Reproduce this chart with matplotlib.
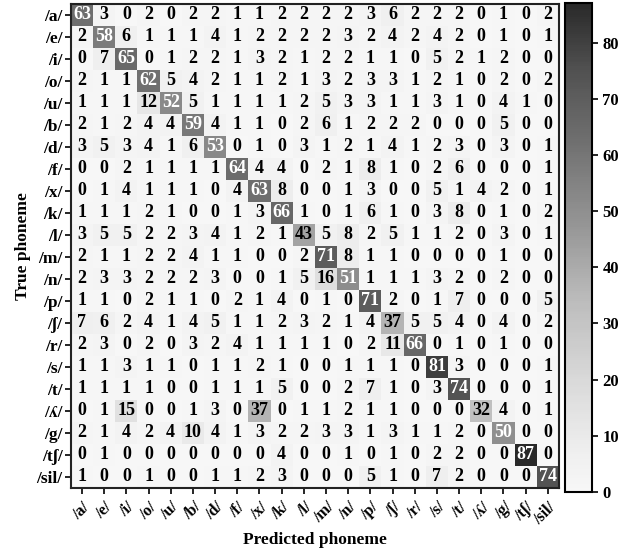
import numpy as np
import matplotlib as mpl
mpl.use("Agg")
import matplotlib.pyplot as plt
from matplotlib.colors import LinearSegmentedColormap

# phoneme labels (rows = true, cols = predicted)
phonemes = ['/a/', '/e/', '/i/', '/o/', '/u/', '/b/', '/d/', '/f/', '/x/', '/k/', '/l/',
            '/m/', '/n/', '/p/', '/\u0283/', '/r/', '/s/', '/t/', '/\u028e/', '/g/', '/t\u0283/', '/sil/']

row_a = [63, 3, 0, 2, 0, 2, 2, 1, 1, 2, 2, 2, 2, 3, 6, 2, 2, 2, 0, 1, 0, 2]
row_e = [2, 58, 6, 1, 1, 1, 4, 1, 2, 2, 2, 2, 3, 2, 4, 2, 4, 2, 0, 1, 0, 1]
row_i = [0, 7, 65, 0, 1, 2, 2, 1, 3, 2, 1, 2, 2, 1, 1, 0, 5, 2, 1, 2, 0, 0]
row_o = [2, 1, 1, 62, 5, 4, 2, 1, 1, 2, 1, 3, 2, 3, 3, 1, 2, 1, 0, 2, 0, 2]
row_u = [1, 1, 1, 12, 52, 5, 1, 1, 1, 1, 2, 5, 3, 3, 1, 1, 3, 1, 0, 4, 1, 0]
row_b = [2, 1, 2, 4, 4, 59, 4, 1, 1, 0, 2, 6, 1, 2, 2, 2, 0, 0, 0, 5, 0, 0]
row_d = [3, 5, 3, 4, 1, 6, 53, 0, 1, 0, 3, 1, 2, 1, 4, 1, 2, 3, 0, 3, 0, 1]
row_f = [0, 0, 2, 1, 1, 1, 1, 64, 4, 4, 0, 2, 1, 8, 1, 0, 2, 6, 0, 0, 0, 1]
row_x = [0, 1, 4, 1, 1, 1, 0, 4, 63, 8, 0, 0, 1, 3, 0, 0, 5, 1, 4, 2, 0, 1]
row_k = [1, 1, 1, 2, 1, 0, 0, 1, 3, 66, 1, 0, 1, 6, 1, 0, 3, 8, 0, 1, 0, 2]
row_l = [3, 5, 5, 2, 2, 3, 4, 1, 2, 1, 43, 5, 8, 2, 5, 1, 1, 2, 0, 3, 0, 1]
row_m = [2, 1, 1, 2, 2, 4, 1, 1, 0, 0, 2, 71, 8, 1, 1, 0, 0, 0, 0, 1, 0, 0]
row_n = [2, 3, 3, 2, 2, 2, 3, 0, 0, 1, 5, 16, 51, 1, 1, 1, 3, 2, 0, 2, 0, 0]
row_p = [1, 1, 0, 2, 1, 1, 0, 2, 1, 4, 0, 1, 0, 71, 2, 0, 1, 7, 0, 0, 0, 5]
row_sh = [7, 6, 2, 4, 1, 4, 5, 1, 1, 2, 3, 2, 1, 4, 37, 5, 5, 4, 0, 4, 0, 2]
row_r = [2, 3, 0, 2, 0, 3, 2, 4, 1, 1, 1, 1, 0, 2, 11, 66, 0, 1, 0, 1, 0, 0]
row_s = [1, 1, 3, 1, 1, 0, 1, 1, 2, 1, 0, 0, 1, 1, 1, 0, 81, 3, 0, 0, 0, 1]
row_t = [1, 1, 1, 1, 0, 0, 1, 1, 1, 5, 0, 0, 2, 7, 1, 0, 3, 74, 0, 0, 0, 1]
row_ll = [0, 1, 15, 0, 0, 1, 3, 0, 37, 0, 1, 1, 2, 1, 1, 0, 0, 0, 32, 4, 0, 1]
row_g = [2, 1, 4, 2, 4, 10, 4, 1, 3, 2, 2, 3, 3, 1, 3, 1, 1, 2, 0, 50, 0, 0]
row_ch = [0, 1, 0, 0, 0, 0, 0, 0, 0, 4, 0, 0, 1, 0, 1, 0, 2, 2, 0, 0, 87, 0]
row_sil = [1, 0, 0, 1, 0, 0, 1, 1, 2, 3, 0, 0, 0, 5, 1, 0, 7, 2, 0, 0, 0, 74]

cm = np.array([row_a, row_e, row_i, row_o, row_u, row_b, row_d, row_f, row_x, row_k, row_l,
               row_m, row_n, row_p, row_sh, row_r, row_s, row_t, row_ll, row_g, row_ch, row_sil])

FONT = ['Liberation Serif', 'DejaVu Serif']
plt.rcParams['font.family'] = FONT
plt.rcParams['font.weight'] = 'bold'

# truncated grey colormap (light grey -> dark grey)
greys = plt.get_cmap('Greys')
cmap = LinearSegmentedColormap.from_list('tgrey', greys(np.linspace(0.07, 0.86, 256)))

fig = plt.figure(figsize=(6.33, 5.57), dpi=100)
ax = fig.add_axes([0.112, 0.124, 0.771, 0.869])
cax = fig.add_axes([0.893, 0.117, 0.042, 0.877])

n = len(phonemes)
im = ax.pcolormesh(np.arange(n + 1), np.arange(n + 1), cm, cmap=cmap, vmin=0, vmax=cm.max())
ax.set_xlim(0, n)
ax.set_ylim(n, 0)

for i in range(n):
    for j in range(n):
        v = cm[i, j]
        ax.text(j + 0.5, i + 0.5, str(v), ha='center', va='center', fontsize=13,
                family=FONT, fontweight='bold', color='w' if v > 45 else 'k')

ax.set_xticks(np.arange(n) + 0.5)
ax.set_yticks(np.arange(n) + 0.5)
ax.set_xticklabels(phonemes, rotation=45, ha='right', rotation_mode='anchor',
                   fontsize=11.5, family=FONT, fontweight='bold')
ax.set_yticklabels(phonemes, fontsize=12.5, family=FONT, fontweight='bold')
ax.tick_params(axis='x', length=4, width=1.2, color='k', pad=4)
ax.tick_params(axis='y', length=4, width=1.2, color='k', pad=2)
for sp in ax.spines.values():
    sp.set_linewidth(1.5)
    sp.set_color('#222222')

ax.set_xlabel('Predicted phoneme', fontsize=12.5, family=FONT, fontweight='bold', labelpad=3)
ax.set_ylabel('True phoneme', fontsize=12.5, family=FONT, fontweight='bold', labelpad=4)

cb = fig.colorbar(im, cax=cax)
cb.set_ticks(np.arange(0, 81, 10))
cb.ax.tick_params(length=4, width=1.2)
cb.ax.set_yticklabels([str(t) for t in range(0, 81, 10)], fontsize=12, family=FONT, fontweight='bold')
cb.outline.set_linewidth(1.5)

fig.savefig('out.png', dpi=100)
